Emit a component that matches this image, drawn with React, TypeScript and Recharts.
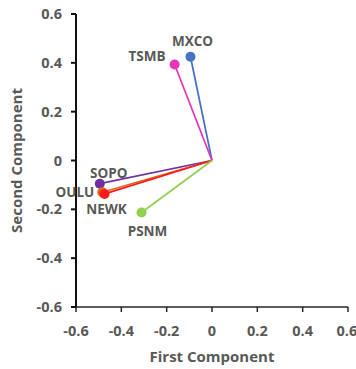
import React from 'react'
import { ScatterChart, Scatter, XAxis, YAxis, LabelList } from 'recharts'

const stations = ['MXCO', 'TSMB', 'SOPO', 'OULU', 'NEWK', 'PSNM']
const firstComponent = [-0.095, -0.165, -0.495, -0.484, -0.474, -0.311]
const secondComponent = [0.425, 0.393, -0.095, -0.13, -0.137, -0.213]
const axisTicks = [-0.6, -0.4, -0.2, 0, 0.2, 0.4, 0.6]

const colors: Record<string, string> = {
  MXCO: '#4472C4',
  TSMB: '#E536B9',
  SOPO: '#7030A0',
  OULU: '#D8691E',
  NEWK: '#FF1A1A',
  PSNM: '#92D050',
}

// label placement relative to the marker
const labelPos: Record<string, { dx: number; dy: number; anchor: 'start' | 'middle' | 'end' }> = {
  MXCO: { dx: 2, dy: -16, anchor: 'middle' },
  TSMB: { dx: -9, dy: -9, anchor: 'end' },
  SOPO: { dx: 9, dy: -11, anchor: 'middle' },
  OULU: { dx: -8, dy: 0, anchor: 'end' },
  NEWK: { dx: 2, dy: 15, anchor: 'middle' },
  PSNM: { dx: 6, dy: 18, anchor: 'middle' },
}

const FONT = '"Open Sans", sans-serif'
const GRAY = '#595959'

const fmt = (v: number) => (v === 0 ? '0' : v.toFixed(1))

export default function App() {
  return (
    <div style={{ position: 'absolute', left: 0, top: 0, width: 356, height: 369, background: '#fff' }}>
      <ScatterChart width={356} height={369} margin={{ top: 14, right: 8, bottom: 0, left: 0 }}>
        <XAxis
          type="number"
          dataKey="x"
          domain={[-0.6, 0.6]}
          ticks={axisTicks}
          tickFormatter={fmt}
          height={62}
          tickSize={5}
          tickMargin={14}
          stroke="#262626"
          strokeWidth={1.5}
          tick={{ fill: GRAY, fontSize: 14.5, fontWeight: 700, fontFamily: FONT }}
          label={{ value: 'First Component', position: 'insideBottom', offset: 7, fill: GRAY, fontSize: 15, fontWeight: 700, fontFamily: FONT }}
        />
        <YAxis
          type="number"
          dataKey="y"
          domain={[-0.6, 0.6]}
          ticks={axisTicks}
          tickFormatter={fmt}
          width={76}
          tickSize={5}
          tickMargin={9}
          stroke="#111"
          strokeWidth={2}
          tick={{ fill: GRAY, fontSize: 14.5, fontWeight: 700, fontFamily: FONT }}
          label={{ value: 'Second Component', angle: -90, position: 'insideLeft', offset: 17, style: { textAnchor: 'middle' }, fill: GRAY, fontSize: 15, fontWeight: 700, fontFamily: FONT }}
        />
        {stations.map((name, i) => {
          const data = [
            { x: 0, y: 0, name: '' },
            { x: firstComponent[i], y: secondComponent[i], name },
          ]
          const c = colors[name]
          const p = labelPos[name]
          return (
            <Scatter
              key={name}
              data={data}
              line={{ stroke: c, strokeWidth: 1.75 }}
              isAnimationActive={false}
              shape={(props: any) => {
                if (!props.payload || props.payload.name === '') return <g />
                return <circle cx={props.cx} cy={props.cy} r={5} fill={c} />
              }}
            >
              <LabelList
                dataKey="name"
                content={(lp: any) => {
                  if (!lp.value) return null
                  return (
                    <text
                      x={lp.x + lp.width / 2 + p.dx}
                      y={lp.y + lp.height / 2 + p.dy}
                      textAnchor={p.anchor}
                      dominantBaseline="central"
                      fill={GRAY}
                      fontSize={13.5}
                      fontWeight={700}
                      fontFamily={FONT}
                    >
                      {lp.value}
                    </text>
                  )
                }}
              />
            </Scatter>
          )
        })}
      </ScatterChart>
    </div>
  )
}
